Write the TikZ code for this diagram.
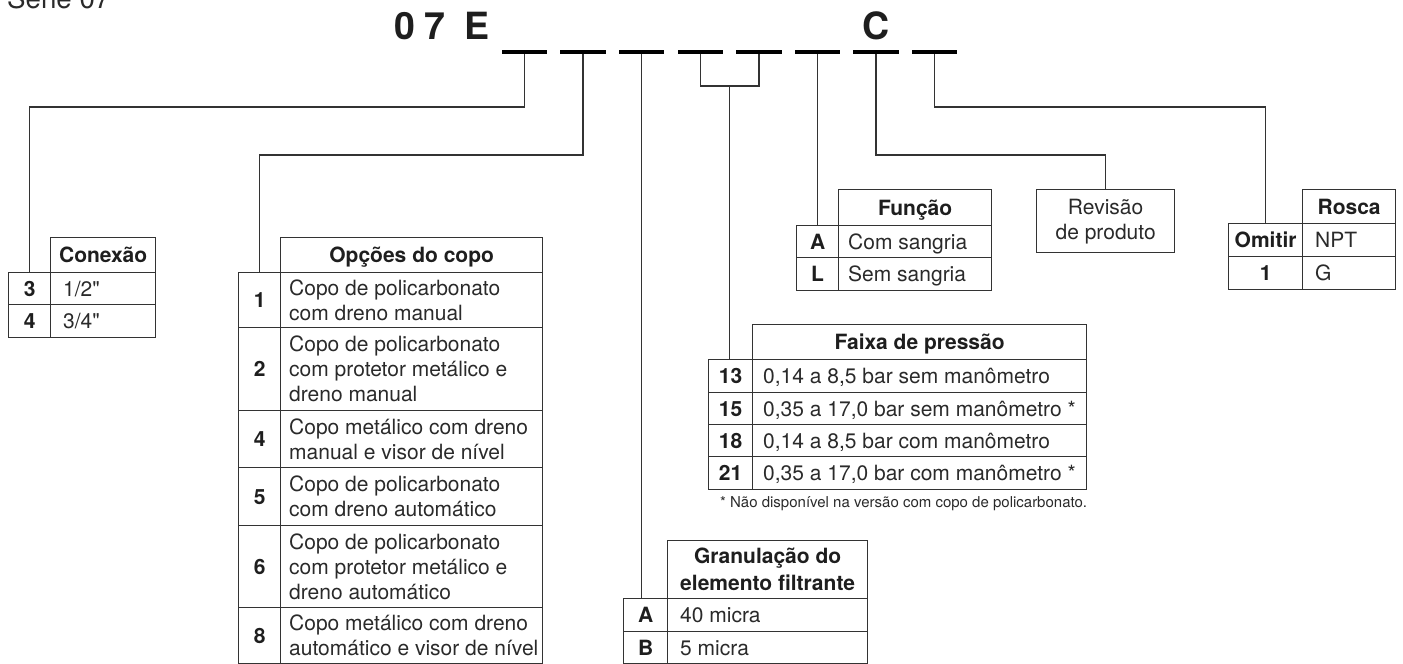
\documentclass[tikz,border=0pt]{standalone}
\usepackage{fontspec}
\setmainfont{TeX Gyre Heros}
\newfontfamily\qfont{TeX Gyre Heros}
\usetikzlibrary{calc}
\definecolor{lc}{HTML}{333333}
\definecolor{tc}{HTML}{1E1E1E}
\definecolor{bc}{HTML}{2A2A2A}
\newcommand\cbox[5]{\node[cellbox, minimum width=#4, minimum height=#5] (#1) at (#2,#3) {};}
\newcommand\qd{{\qfont"}}
\begin{document}
\begin{tikzpicture}[x=1pt, y=-1pt,
 cellbox/.style={draw=lc, line width=1.3pt, inner sep=0pt, anchor=north west},
 body/.style={inner sep=0pt, text=bc, font=\fontsize{21}{25}\selectfont, align=left, anchor=west},
 bodyone/.style={body, text height=15pt, text depth=0pt},
 num/.style={inner sep=0pt, text=tc, font=\fontsize{21}{25}\selectfont\bfseries, text height=15pt, text depth=0pt},
 head/.style={inner sep=0pt, text=tc, font=\fontsize{21}{27}\selectfont\bfseries, align=center},
 headone/.style={head, text height=15pt, text depth=0pt},
 conn/.style={draw=lc, line width=1.3pt},
 dashbar/.style={fill=black, inner sep=0pt, minimum width=45pt, minimum height=3pt},
 big/.style={inner sep=0pt, anchor=base, text=tc, font=\fontsize{37.5}{40}\selectfont\bfseries},
]
\useasboundingbox (0,0) rectangle (1403,664);

% title
\node[inner sep=0pt, anchor=base west, text=bc, font=\fontsize{27.7}{30}\selectfont] (serie) at (7,8) {Série 07};
\node[big] (t0) at (405,39) {0};
\node[big] (t7) at (435,39) {7};
\node[big] (tE) at (477,39) {E};
\node[big] (tC) at (876,39) {C};

% dashes
\foreach \i in {1,...,8} \node[dashbar] (d\i) at ({524.5+58.6*(\i-1)},52) {};

% Conexao
\cbox{cxh}{50}{237}{105}{35}
\node[headone] (cxht) at (cxh.center) {Conexão};
\cbox{cx3n}{8}{272}{42}{32}
\cbox{cx3v}{50}{272}{105}{32}
\cbox{cx4n}{8}{304}{42}{33}
\cbox{cx4v}{50}{304}{105}{33}
\node[num] (cx3nt) at (cx3n.center) {3};
\node[num] (cx4nt) at (cx4n.center) {4};
\node[bodyone] (cx3vt) at ([xshift=13pt]cx3v.west) {1/2\qd};
\node[bodyone] (cx4vt) at ([xshift=13pt]cx4v.west) {3/4\qd};

% Opcoes do copo
\cbox{oh}{280}{237}{262}{35}
\node[headone] (oht) at (oh.center) {Opções do copo};
\cbox{o1n}{238}{272}{42}{55}  \cbox{o1v}{280}{272}{262}{55}
\cbox{o2n}{238}{327}{42}{83}  \cbox{o2v}{280}{327}{262}{83}
\cbox{o4n}{238}{410}{42}{57}  \cbox{o4v}{280}{410}{262}{57}
\cbox{o5n}{238}{467}{42}{58}  \cbox{o5v}{280}{467}{262}{58}
\cbox{o6n}{238}{525}{42}{82}  \cbox{o6v}{280}{525}{262}{82}
\cbox{o8n}{238}{607}{42}{56}  \cbox{o8v}{280}{607}{262}{56}
\node[num] (o1nt) at (o1n.center) {1};
\node[num] (o2nt) at (o2n.center) {2};
\node[num] (o4nt) at (o4n.center) {4};
\node[num] (o5nt) at (o5n.center) {5};
\node[num] (o6nt) at (o6n.center) {6};
\node[num] (o8nt) at (o8n.center) {8};
\node[body] (o1vt) at ([xshift=9pt]o1v.west) {Copo de policarbonato\\com dreno manual};
\node[body] (o2vt) at ([xshift=9pt]o2v.west) {Copo de policarbonato\\com protetor metálico e\\dreno manual};
\node[body] (o4vt) at ([xshift=9pt]o4v.west) {Copo metálico com dreno\\manual e visor de nível};
\node[body] (o5vt) at ([xshift=9pt]o5v.west) {Copo de policarbonato\\com dreno automático};
\node[body] (o6vt) at ([xshift=9pt]o6v.west) {Copo de policarbonato\\com protetor metálico e\\dreno automático};
\node[body] (o8vt) at ([xshift=9pt]o8v.west) {Copo metálico com dreno\\automático e visor de nível};

% Granulacao
\cbox{gh}{667}{540}{200}{58}
\node[head] (ght) at (gh.center) {Granulação do\\elemento filtrante};
\cbox{gAn}{623}{598}{44}{33} \cbox{gAv}{667}{598}{200}{33}
\cbox{gBn}{623}{631}{44}{32} \cbox{gBv}{667}{631}{200}{32}
\node[num] (gAnt) at (gAn.center) {A};
\node[num] (gBnt) at (gBn.center) {B};
\node[bodyone] (gAvt) at ([xshift=13pt]gAv.west) {40 micra};
\node[bodyone] (gBvt) at ([xshift=13pt]gBv.west) {5 micra};

% Faixa de pressao
\cbox{fh}{752}{324}{334}{35}
\node[headone] (fht) at (fh.center) {Faixa de pressão};
\cbox{f13n}{708}{359}{44}{33} \cbox{f13v}{752}{359}{334}{33}
\cbox{f15n}{708}{392}{44}{32} \cbox{f15v}{752}{392}{334}{32}
\cbox{f18n}{708}{424}{44}{32} \cbox{f18v}{752}{424}{334}{32}
\cbox{f21n}{708}{456}{44}{33} \cbox{f21v}{752}{456}{334}{33}
\node[num] (f13nt) at (f13n.center) {13};
\node[num] (f15nt) at (f15n.center) {15};
\node[num] (f18nt) at (f18n.center) {18};
\node[num] (f21nt) at (f21n.center) {21};
\node[bodyone] (f13vt) at ([xshift=11pt]f13v.west) {0,14 a 8,5 bar sem manômetro};
\node[bodyone] (f15vt) at ([xshift=11pt]f15v.west) {0,35 a 17,0 bar sem manômetro *};
\node[bodyone] (f18vt) at ([xshift=11pt]f18v.west) {0,14 a 8,5 bar com manômetro};
\node[bodyone] (f21vt) at ([xshift=11pt]f21v.west) {0,35 a 17,0 bar com manômetro *};
\node[inner sep=0pt, anchor=west, text=bc, font=\fontsize{15}{18}\selectfont] (fn) at (720,504) {* Não disponível na versão com copo de policarbonato.};

% Funcao
\cbox{uh}{838}{189}{153}{36}
\node[headone] (uht) at (uh.center) {Função};
\cbox{fAn}{796}{225}{42}{32} \cbox{fAv}{838}{225}{153}{32}
\cbox{fLn}{796}{257}{42}{33} \cbox{fLv}{838}{257}{153}{33}
\node[num] (fAnt) at (fAn.center) {A};
\node[num] (fLnt) at (fLn.center) {L};
\node[bodyone] (fAvt) at ([xshift=10pt]fAv.west) {Com sangria};
\node[bodyone] (fLvt) at ([xshift=10pt]fLv.west) {Sem sangria};

% Revisao
\cbox{rev}{1036}{189}{138}{63}
\node[inner sep=0pt, text=bc, font=\fontsize{21}{25}\selectfont, align=center] (revt) at (rev.center) {Revisão\\de produto};

% Rosca
\cbox{rh}{1302}{189}{93}{34}
\node[headone] (rht) at (rh.center) {Rosca};
\cbox{rOn}{1228}{223}{74}{33} \cbox{rOv}{1302}{223}{93}{33}
\cbox{r1n}{1228}{256}{74}{33} \cbox{r1v}{1302}{256}{93}{33}
\node[num] (rOnt) at (rOn.center) {Omitir};
\node[num] (r1nt) at (r1n.center) {1};
\node[bodyone] (rOvt) at ([xshift=13pt]rOv.west) {NPT};
\node[bodyone] (r1vt) at ([xshift=13pt]r1v.west) {G};

% connectors
\draw[conn] (d1.center) -- ++(0,55) -| (cx3n.north);
\draw[conn] (d2.center) -- ++(0,103) -| (o1n.north);
\draw[conn] (d3.center) -- (d3.center |- gAn.north);
\path (d4.center) -- ++(0,34) coordinate (b4);
\path (d5.center) -- ++(0,34) coordinate (b5);
\draw[conn] (d4.center) -- (b4) -- (b5) -- (d5.center);
\coordinate (br) at ($(b4)!0.5!(b5)$);
\draw[conn] (br) -- (br |- f13n.north);
\draw[conn] (d6.center) -- (d6.center |- fAn.north);
\draw[conn] (d7.center) -- ++(0,103) -| (rev.north);
\draw[conn] (d8.center) -- ++(0,55) -| (rOn.north);

% redraw dashes on top
\foreach \i in {1,...,8} \fill (d\i.north west) rectangle (d\i.south east);
\end{tikzpicture}
\end{document}
